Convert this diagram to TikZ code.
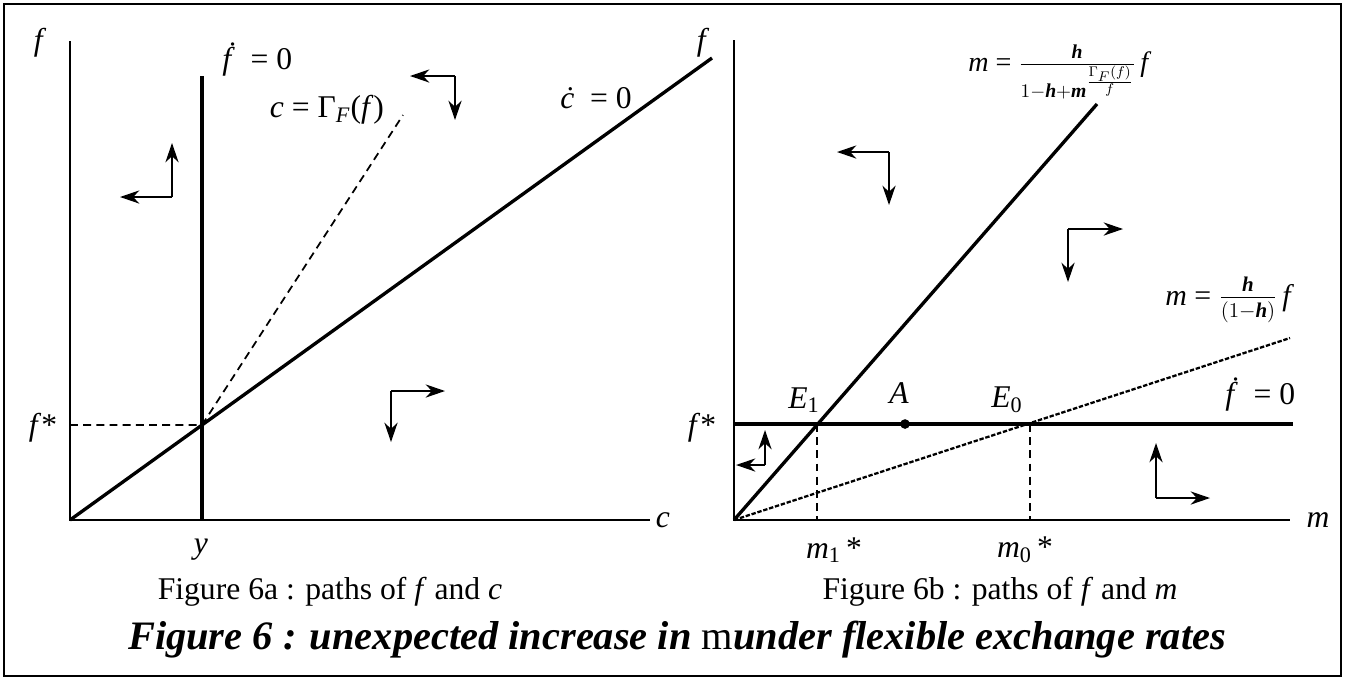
\documentclass[tikz,border=0pt]{standalone}
\usepackage{amsmath}
\usepackage{fontspec}
\setmainfont{Liberation Serif}
\usetikzlibrary{arrows.meta}

\newcommand{\bh}{\textbf{\textit{h}}}
\newcommand{\bm}{\textbf{\textit{m}}}

\begin{document}
\begin{tikzpicture}[x=0.02cm,y=-0.02cm,inner sep=0pt,
  every node/.style={font=\fontsize{18}{21}\selectfont},
  axis/.style={line width=1pt},
  locus/.style={line width=1.9pt},
  guide/.style={line width=1pt,dash pattern=on 4.5pt off 3pt},
  fine/.style={line width=1.3pt,dash pattern=on 2.5pt off 1pt},
  flow/.style={line width=1pt,-{Stealth[length=11pt,width=7.5pt,inset=3.5pt]}}]
\useasboundingbox (0,0) rectangle (1354,681);
\draw[line width=1.2pt] (4,4) rectangle (1341,676);

\coordinate (o1) at (70,520);
\coordinate (top1) at (70,41);
\coordinate (end1) at (650,520);
\coordinate (ybot) at (202,520);
\coordinate (ytop) at (202,76);
\coordinate (s1) at (202,425);
\coordinate (fs1) at (70,425);
\coordinate (gend) at (403,115);
\coordinate (cend) at (712,58);

\draw[axis] (top1) -- (o1) -- (end1);
\draw[locus] (ybot) -- (ytop);
\draw[locus] (o1) -- (cend);
\draw[guide] (fs1) -- (s1) -- (gend);

\node (lf1) at (40,43) {\textit{f}};
\node (lc) at (663,520) {\textit{c}};
\node (ly) at (201,550) {\textit{y}};
\node (lfs1) at (43,428) {\textit{f}*};
\node (lfdot1) [anchor=west] at (222,60) {\textit{\.f}\enspace = 0};
\node (lgam) at (327,110) {\textit{c} = Γ\textsubscript{\textit{F}}(\textit{f})};
\node (lcdot) at (596,98) {\textit{\.c}\enspace = 0};
\node (cap1) at (330,592) {Figure 6a : paths of \textit{f} and \textit{c}};

\coordinate (a1) at (172,197);
\draw[flow] (a1) -- (120,197);
\draw[flow] (a1) -- (172,143);
\coordinate (a2) at (455,76);
\draw[flow] (a2) -- (410,76);
\draw[flow] (a2) -- (455,120);
\coordinate (a3) at (391,391);
\draw[flow] (a3) -- (445,391);
\draw[flow] (a3) -- (391,442);

\coordinate (o2) at (734,520);
\coordinate (top2) at (734,40);
\coordinate (end2) at (1290,520);
\coordinate (hend) at (1293,424);
\coordinate (fs2) at (734,424);
\coordinate (e1) at (817,424);
\coordinate (e0) at (1030,424);
\coordinate (m1) at (817,520);
\coordinate (m0) at (1030,520);
\coordinate (send) at (1097,104);
\coordinate (dend) at (1290,338);

\draw[axis] (top2) -- (o2) -- (end2);
\draw[locus] (fs2) -- (hend);
\draw[locus] (o2) -- (send);
\draw[fine] (o2) -- (dend);
\draw[guide] (e1) -- (m1);
\draw[guide] (e0) -- (m0);
\node (dotA) at (905,424) [circle,fill,minimum size=5.5pt] {};

\node (lf2) at (703,43) {\textit{f}};
\node (lm) at (1318,520) {\textit{m}};
\node (lfs2) at (702,428) {\textit{f}*};
\node (lE1) at (804,400) {\textit{E}\textsubscript{1}};
\node (lA) at (899,393) {\textit{A}};
\node (lE0) at (1007,400) {\textit{E}\textsubscript{0}};
\node (lfdot2) [anchor=west] at (1225,395) {\textit{\.f}\enspace = 0};
\node (lm1) at (834,550) {\textit{m}\textsubscript{1}\,*};
\node (lm0) at (1025,550) {\textit{m}\textsubscript{0}\,*};
\node (lsteep) [anchor=west,font=\fontsize{16}{19}\selectfont] at (968,72) {\textit{m} = $\frac{\raisebox{1pt}{$\scriptstyle\bh$}}{\raisebox{-1pt}{$\scriptstyle 1-\bh+\bm^{\frac{\Gamma_F(f)}{f}}$}}$\,\textit{f}};
\node (lflat) [anchor=west,font=\fontsize{17}{20}\selectfont] at (1165,300) {\textit{m} = $\frac{\raisebox{1pt}{$\scriptstyle\bh$}}{\raisebox{-1pt}{$\scriptstyle(1-\bh)$}}$\,\textit{f}};
\node (cap2) at (1000,592) {Figure 6b : paths of \textit{f} and \textit{m}};

\coordinate (b1) at (889,152);
\draw[flow] (b1) -- (837,152);
\draw[flow] (b1) -- (889,205);
\coordinate (b2) at (1068,229);
\draw[flow] (b2) -- (1123,229);
\draw[flow] (b2) -- (1068,282);
\coordinate (b3) at (765,465);
\draw[flow] (b3) -- (736,465);
\draw[flow] (b3) -- (765,430);
\coordinate (b4) at (1156,498);
\draw[flow] (b4) -- (1210,498);
\draw[flow] (b4) -- (1156,443);

\node (title) at (677,640) {\fontsize{23}{27}\selectfont\bfseries\itshape Figure 6 : unexpected increase in {\upshape\mdseries m}under flexible exchange rates};
\end{tikzpicture}
\end{document}
